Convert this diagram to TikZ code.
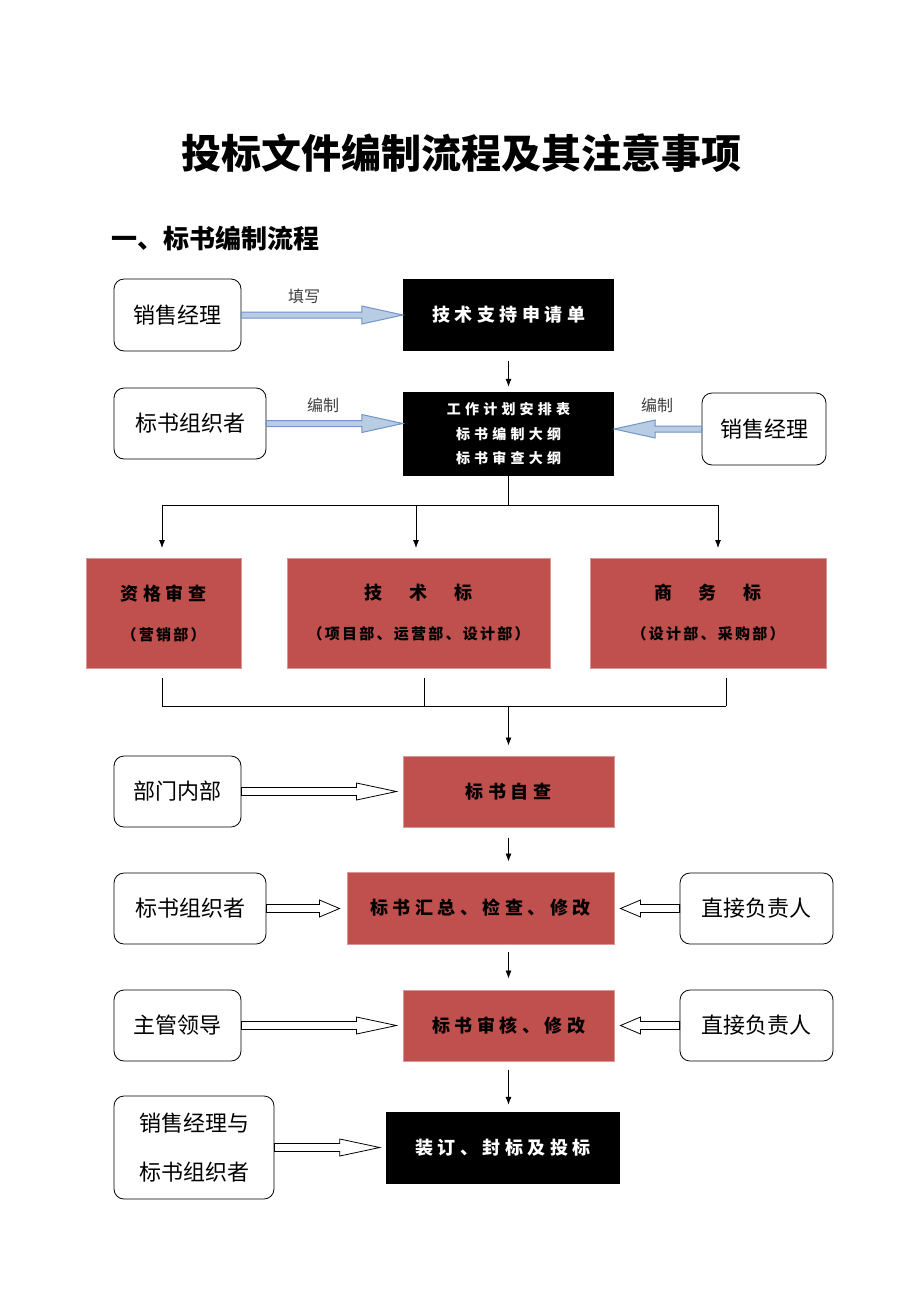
\documentclass[tikz,border=0pt]{standalone}
\usepackage{fontspec}
\setmainfont{Noto Sans CJK SC}
\newfontfamily\spaced{Noto Sans CJK SC}[LetterSpace=25]
\newfontfamily\spacedb{Noto Sans CJK SC}[LetterSpace=30]
\newfontfamily\spacedc{Noto Sans CJK SC}[LetterSpace=15]
\newcommand\subfont{\spacedc\bfseries\fontsize{15}{17}\selectfont}
\usetikzlibrary{arrows.meta,calc}
\definecolor{redbox}{HTML}{C0504D}
\definecolor{redline}{HTML}{DA9694}
\definecolor{bluefill}{HTML}{B8CCE4}
\definecolor{blueline}{HTML}{7095C8}
\newcommand\fatarrow[6]{%
  \coordinate (fs) at (#2);
  \coordinate (fe) at (#3);
  \coordinate (fh) at ($(fe)!#6!(fs)$);
  \draw[#1] ($(fs)!#4!90:(fe)$) -- ($(fh)!#4!90:(fe)$) -- ($(fh)!#5!90:(fe)$) -- (fe)
    -- ($(fh)!#5!-90:(fe)$) -- ($(fh)!#4!-90:(fe)$) -- ($(fs)!#4!-90:(fe)$) -- cycle;}
\begin{document}
\begin{tikzpicture}[x=1pt,y=-1pt,
    rbox/.style={draw,rounded corners=10pt,line width=0.8pt,inner sep=0pt,font=\fontsize{22}{49}\selectfont,align=center},
    kbox/.style={fill=black,text=white,inner sep=0pt,align=center,font=\spaced\bfseries\fontsize{18}{24}\selectfont},
    hbox/.style={fill=redbox,draw=redline,line width=1pt,inner sep=0pt,align=center,font=\spaced\bfseries\fontsize{18}{20}\selectfont},
    tip/.style={-{Latex[length=8pt,width=6pt]},line width=0.8pt},
    lab/.style={text=black!75,font=\fontsize{16}{18}\selectfont},
    bluearr/.style={draw=blueline,fill=bluefill,line width=1pt},
    whitearr/.style={draw=black,fill=white,line width=0.8pt}]
    \useasboundingbox[fill=white] (0,0) rectangle (920,1302);
    \node[font=\bfseries\fontsize{40}{44}\selectfont] (title) at (461,153) {投标文件编制流程及其注意事项};
    \node[anchor=west,font=\bfseries\fontsize{26}{28}\selectfont] (head) at (108,238) {一、标书编制流程};
    \node[rbox,minimum width=127pt,minimum height=72pt] (s1) at (177.5,315) {销售经理};
    \node[kbox,minimum width=211pt,minimum height=72pt] (t1) at (508.5,315) {技术支持申请单};
    \node[rbox,minimum width=152pt,minimum height=71pt] (o1) at (190,423.5) {标书组织者};
    \node[kbox,minimum width=211pt,minimum height=84pt,font=\spacedb\bfseries\fontsize{14}{24.5}\selectfont] (t2) at (508.5,434) {工作计划安排表\\标书编制大纲\\标书审查大纲};
    \node[rbox,minimum width=124pt,minimum height=72pt] (s2) at (764,429) {销售经理};
    \node[lab] (l1) at (304,296) {填写};
    \node[lab] (l2) at (323,405) {编制};
    \node[lab] (l3) at (657,405) {编制};
    \fatarrow{bluearr}{s1.east}{t1.west}{3pt}{9pt}{41pt}
    \fatarrow{bluearr}{o1.east}{o1.east -| t2.west}{3pt}{9pt}{41pt}
    \fatarrow{bluearr}{s2.west}{s2.west -| t2.east}{3pt}{9pt}{41pt}
    \draw[tip,shorten <=10pt,shorten >=5pt] (t1.south) -- (t2.north);
    \node[hbox,minimum width=155pt,minimum height=110pt] (r1) at (163.5,613) {资格审查\\[20pt]{\subfont （营销部）}};
    \node[hbox,minimum width=263pt,minimum height=110pt] (r2) at (418.5,613) {技　术　标\\[20pt]{\subfont （项目部、运营部、设计部）}};
    \node[hbox,minimum width=236pt,minimum height=110pt] (r3) at (708,613) {商　务　标\\[20pt]{\subfont （设计部、采购部）}};
    \coordinate (m1) at (162,505);
    \coordinate (m2) at (416,505);
    \coordinate (m3) at (718,505);
    \draw[line width=0.8pt] (t2.south) -- (t2.south |- m1);
    \draw[line width=0.8pt] (m1) -- (m3);
    \draw[tip] (m1) -- ++(0,43);
    \draw[tip] (m2) -- ++(0,43);
    \draw[tip] (m3) -- ++(0,43);
    \coordinate (n1) at (162,706);
    \coordinate (n2) at (424,706);
    \coordinate (n3) at (726,706);
    \draw[line width=0.8pt] (n1) -- ++(0,-28);
    \draw[line width=0.8pt] (n2) -- ++(0,-28);
    \draw[line width=0.8pt] (n3) -- ++(0,-28);
    \draw[line width=0.8pt] (n1) -- (n3);
    \node[rbox,minimum width=127pt,minimum height=71pt] (d1) at (177.5,791.5) {部门内部};
    \node[hbox,minimum width=211pt,minimum height=71pt,text=black] (c1) at (508.5,791.5) {标书自查};
    \draw[tip] (n1 -| c1.north) -- ($(c1.north)+(0,-10)$);
    \fatarrow{whitearr}{d1.east}{$(d1.east -| c1.west)+(-6,0)$}{4pt}{8.5pt}{40pt}
    \node[rbox,minimum width=152pt,minimum height=71pt] (o2) at (190,908.5) {标书组织者};
    \node[hbox,minimum width=267pt,minimum height=72pt,text=black] (c2) at (480.5,908) {标书汇总、检查、修改};
    \node[rbox,minimum width=153pt,minimum height=71pt] (z1) at (756.5,908.5) {直接负责人};
    \draw[tip,shorten <=10pt,shorten >=10pt] (c1.south) -- (c1.south |- c2.north);
    \fatarrow{whitearr}{o2.east}{$(o2.east -| c2.west)+(-7,0)$}{4pt}{8.5pt}{20pt}
    \fatarrow{whitearr}{z1.west}{$(z1.west -| c2.east)+(6,0)$}{4pt}{8.5pt}{20pt}
    \node[rbox,minimum width=127pt,minimum height=71pt] (g1) at (177.5,1025.5) {主管领导};
    \node[hbox,minimum width=211pt,minimum height=71pt,text=black] (c3) at (508.5,1025.5) {标书审核、修改};
    \node[rbox,minimum width=153pt,minimum height=71pt] (z2) at (756.5,1025.5) {直接负责人};
    \draw[tip,shorten <=7pt,shorten >=11pt] (c1.south |- c2.south) -- (c3.north);
    \fatarrow{whitearr}{g1.east}{$(g1.east -| c3.west)+(-6,0)$}{4pt}{8.5pt}{40pt}
    \fatarrow{whitearr}{z2.west}{$(z2.west -| c3.east)+(6,0)$}{4pt}{8.5pt}{20pt}
    \node[rbox,minimum width=160pt,minimum height=103pt] (j1) at (194,1147.5) {销售经理与\\标书组织者};
    \node[kbox,minimum width=234pt,minimum height=72pt] (f1) at (503,1148) {装订、封标及投标};
    \draw[tip,shorten <=8pt,shorten >=7pt] (c3.south) -- (c3.south |- f1.north);
    \fatarrow{whitearr}{j1.east}{$(j1.east -| f1.west)+(-6,0)$}{4pt}{8.5pt}{40pt}
\end{tikzpicture}
\end{document}
